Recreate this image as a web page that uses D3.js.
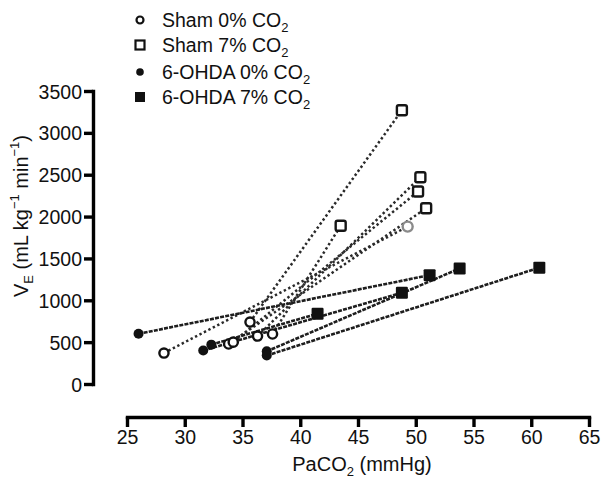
<!DOCTYPE html>
<html><head><meta charset="utf-8">
<script src="https://cdn.jsdelivr.net/npm/d3@7"></script>
<style>
body{margin:0;background:#fff;}
text{font-family:"Liberation Sans",Arial,Helvetica,sans-serif;fill:#111;}
</style></head>
<body><svg id="c" width="613" height="490"></svg>
<script>
// Data (PaCO2 mmHg, VE mL kg-1 min-1), paired per animal: 0% CO2 -> 7% CO2
const shamX0 = [28.2, 33.8, 34.2, 35.65, 36.3, 37.6];
const shamY0 = [370, 478, 500, 740, 573, 597];
const shamX7 = [49.3, 50.9, 50.2, 48.8, 50.4, 43.5];
const shamY7 = [1880, 2100, 2300, 3270, 2470, 1890];
const ohdaX0 = [26.0, 32.3, 31.6, 37.1, 37.1];
const ohdaY0 = [600, 470, 400, 390, 340];
const ohdaX7 = [51.2, 41.5, 48.8, 53.8, 60.7];
const ohdaY7 = [1300, 840, 1090, 1380, 1390];
const xTicks = [25, 30, 35, 40, 45, 50, 55, 60, 65];
const yTicks = [0, 500, 1000, 1500, 2000, 2500, 3000, 3500];
const legendLabels = ["Sham 0% CO", "Sham 7% CO", "6-OHDA 0% CO", "6-OHDA 7% CO"];

const svg = d3.select("#c");
const x = d3.scaleLinear().domain([25, 65]).range([127, 589]);
const y = d3.scaleLinear().domain([0, 3500]).range([384, 91]);

// Axes
const yAxis = svg.append("g").attr("transform", "translate(93,0)")
  .call(d3.axisLeft(y).tickValues(yTicks).tickSize(9).tickSizeOuter(0).tickPadding(2).tickFormat(d3.format("d")));
const xAxis = svg.append("g").attr("transform", "translate(0,417)")
  .call(d3.axisBottom(x).tickValues(xTicks).tickSize(10).tickSizeOuter(0).tickPadding(3));
[yAxis, xAxis].forEach(a => {
  a.select(".domain").attr("stroke", "#000").attr("stroke-width", 3.4).attr("stroke-linecap", "square");
  a.selectAll(".tick line").attr("stroke", "#000").attr("stroke-width", 3.4);
  a.selectAll(".tick text").attr("font-size", 19.5).attr("fill", "#111")
    .style("font-family", "'Liberation Sans',Arial,sans-serif");
});
yAxis.selectAll(".tick text").attr("dy", "0.36em");

// Axis titles
const xt = svg.append("text").attr("x", 362).attr("y", 471).attr("text-anchor", "middle").attr("font-size", 20);
xt.append("tspan").text("PaCO");
xt.append("tspan").text("2").attr("font-size", 13).attr("dy", 5);
xt.append("tspan").text(" (mmHg)").attr("dy", -5);

const yt = svg.append("text").attr("transform", "translate(28,216) rotate(-90)").attr("text-anchor", "middle").attr("font-size", 20);
yt.append("tspan").text("V");
yt.append("tspan").text("E").attr("font-size", 13).attr("dy", 5);
yt.append("tspan").text(" (mL kg").attr("dy", -5);
yt.append("tspan").text("\u22121").attr("font-size", 13).attr("dy", -9);
yt.append("tspan").text(" min").attr("dy", 9);
yt.append("tspan").text("\u22121").attr("font-size", 13).attr("dy", -9);
yt.append("tspan").text(")").attr("dy", 9);

// Lines
const g = svg.append("g");
shamX0.forEach((v, i) => {
  g.append("line").attr("x1", x(v)).attr("y1", y(shamY0[i]))
    .attr("x2", x(shamX7[i])).attr("y2", y(shamY7[i]))
    .attr("stroke", "#2a2a2a").attr("stroke-width", 2.5).attr("stroke-dasharray", "2.4,2.6");
});
ohdaX0.forEach((v, i) => {
  g.append("line").attr("x1", x(v)).attr("y1", y(ohdaY0[i]))
    .attr("x2", x(ohdaX7[i])).attr("y2", y(ohdaY7[i]))
    .attr("stroke", "#1e1e1e").attr("stroke-width", 2.6).attr("stroke-dasharray", "4,1.2");
});

// Markers
shamX0.forEach((v, i) => {
  g.append("circle").attr("cx", x(v)).attr("cy", y(shamY0[i])).attr("r", 4.6)
    .attr("fill", "#fff").attr("stroke", "#111").attr("stroke-width", 2.4);
});
shamX7.forEach((v, i) => {
  const gray = i === 0;
  g.append("rect").attr("x", x(v) - 5).attr("y", y(shamY7[i]) - 5).attr("width", 10).attr("height", 10)
    .attr("rx", gray ? 5 : 1.8)
    .attr("fill", "#fff").attr("stroke", gray ? "#8a8a8a" : "#151515").attr("stroke-width", 2.4);
});
ohdaX0.forEach((v, i) => {
  g.append("circle").attr("cx", x(v)).attr("cy", y(ohdaY0[i])).attr("r", 5).attr("fill", "#111");
});
ohdaX7.forEach((v, i) => {
  g.append("rect").attr("x", x(v) - 6).attr("y", y(ohdaY7[i]) - 6).attr("width", 12).attr("height", 12)
    .attr("rx", 1.2).attr("fill", "#111");
});

// Legend
const ly = [20, 45, 72, 97];
const lg = svg.append("g");
lg.append("circle").attr("cx", 140).attr("cy", ly[0]).attr("r", 3.5).attr("fill", "#fff").attr("stroke", "#111").attr("stroke-width", 2.2);
lg.append("rect").attr("x", 135.5).attr("y", ly[1] - 4.5).attr("width", 9).attr("height", 9).attr("fill", "#fff").attr("stroke", "#111").attr("stroke-width", 2.2);
lg.append("circle").attr("cx", 140).attr("cy", ly[2]).attr("r", 3.8).attr("fill", "#111");
lg.append("rect").attr("x", 135).attr("y", ly[3] - 5).attr("width", 10).attr("height", 10).attr("fill", "#111");
legendLabels.forEach((t, i) => {
  const tx = lg.append("text").attr("x", 162).attr("y", ly[i] + 7).attr("font-size", 19.5);
  tx.append("tspan").text(t);
  tx.append("tspan").text("2").attr("font-size", 13).attr("dy", 5);
});
</script></body></html>
